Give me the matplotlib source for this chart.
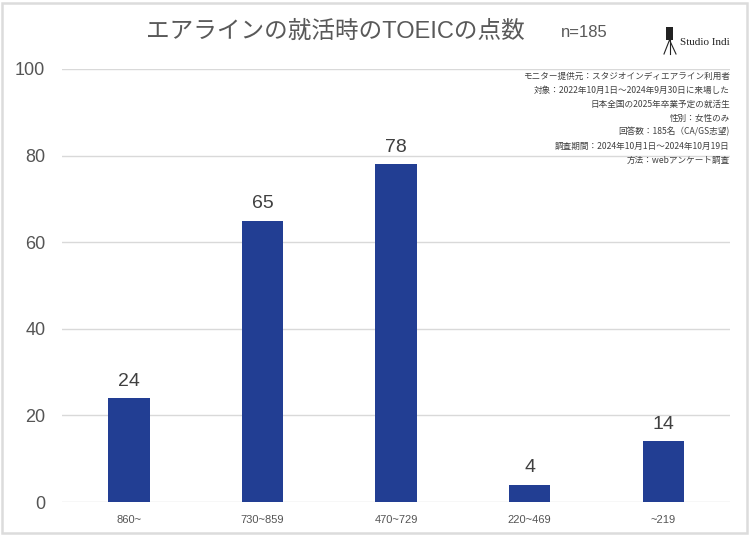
import matplotlib
matplotlib.use("Agg")
import matplotlib.pyplot as plt
from matplotlib.patches import Rectangle
from matplotlib.lines import Line2D

plt.rcParams['font.family'] = ['Liberation Sans', 'Noto Sans CJK JP', 'DejaVu Sans']

categories = ['860~', '730~859', '470~729', '220~469', '~219']
values = [24, 65, 78, 4, 14]
yticks = [0, 20, 40, 60, 80, 100]
title = 'エアラインの就活時のTOEICの点数'
subtitle = 'n=185'
notes = [
    'モニター提供元：スタジオインディエアライン利用者',
    '対象：2022年10月1日～2024年9月30日に来場した',
    '日本全国の2025年卒業予定の就活生',
    '性別：女性のみ',
    '回答数：185名（CA/GS志望)',
    '調査期間：2024年10月1日～2024年10月19日',
    '方法：webアンケート調査',
]

bar_color = '#223E93'
text_color = '#555555'

fig = plt.figure(figsize=(7.5, 5.36), dpi=100)
fig.patch.set_facecolor('white')
ax = fig.add_axes([0.0827, 0.0634, 0.8907, 0.8079])

x = list(range(len(categories)))
bars = ax.bar(x, values, width=0.31, color=bar_color, zorder=3)
for xi, v in zip(x, values):
    ax.annotate(str(v), (xi, v), xytext=(0, 6), textcoords='offset points',
                ha='center', va='bottom', fontsize=14, color='#404040')

ax.set_xlim(-0.5, len(categories) - 0.5)
ax.set_ylim(0, 100)
ax.set_yticks(yticks)
ax.set_xticks(x)
ax.set_xticklabels(categories)
ax.tick_params(axis='y', labelsize=13, colors=text_color, length=0, pad=12)
ax.tick_params(axis='x', labelsize=8, colors=text_color, length=0, pad=9)
ax.grid(axis='y', color='#d9d9d9', linewidth=1, zorder=0)
for s in ax.spines.values():
    s.set_visible(False)

fig.text(0.447, 0.94, title, ha='center', va='center', fontsize=17, color='#595959')
fig.text(0.748, 0.94, subtitle, ha='left', va='center', fontsize=12, color='#595959')

# notes block
y0 = 1 - 76 / 536
dy = 14 / 536
for i, line in enumerate(notes):
    fig.text(0.973, y0 - i * dy, line, ha='right', va='center', fontsize=6.2,
             family=['Noto Sans CJK JP'], color='#404040')

# logo
fig.text(0.907, 1 - 42 / 536, 'Studio Indi', ha='left', va='center', fontsize=8,
         family=['Liberation Serif'], color='#222222')
def px(xp, yp):
    return xp / 750, 1 - yp / 536
body = Rectangle(px(666, 40), 7 / 750, 13 / 536, transform=fig.transFigure,
                 facecolor='#222222', edgecolor='none')
fig.patches.append(body)
for (xa, ya, xb, yb) in [(669.5, 40, 664, 54), (669.5, 40, 676, 54), (669.5, 40, 669.5, 54)]:
    p1 = px(xa, ya); p2 = px(xb, yb)
    fig.lines.append(Line2D([p1[0], p2[0]], [p1[1], p2[1]], transform=fig.transFigure,
                            color='#222222', linewidth=0.8))

# figure border
fig.patches.append(Rectangle((0.003, 0.005), 0.993, 0.99, transform=fig.transFigure,
                             facecolor='none', edgecolor='#dcdcdc', linewidth=1.8))

fig.savefig('out.png', dpi=100)
